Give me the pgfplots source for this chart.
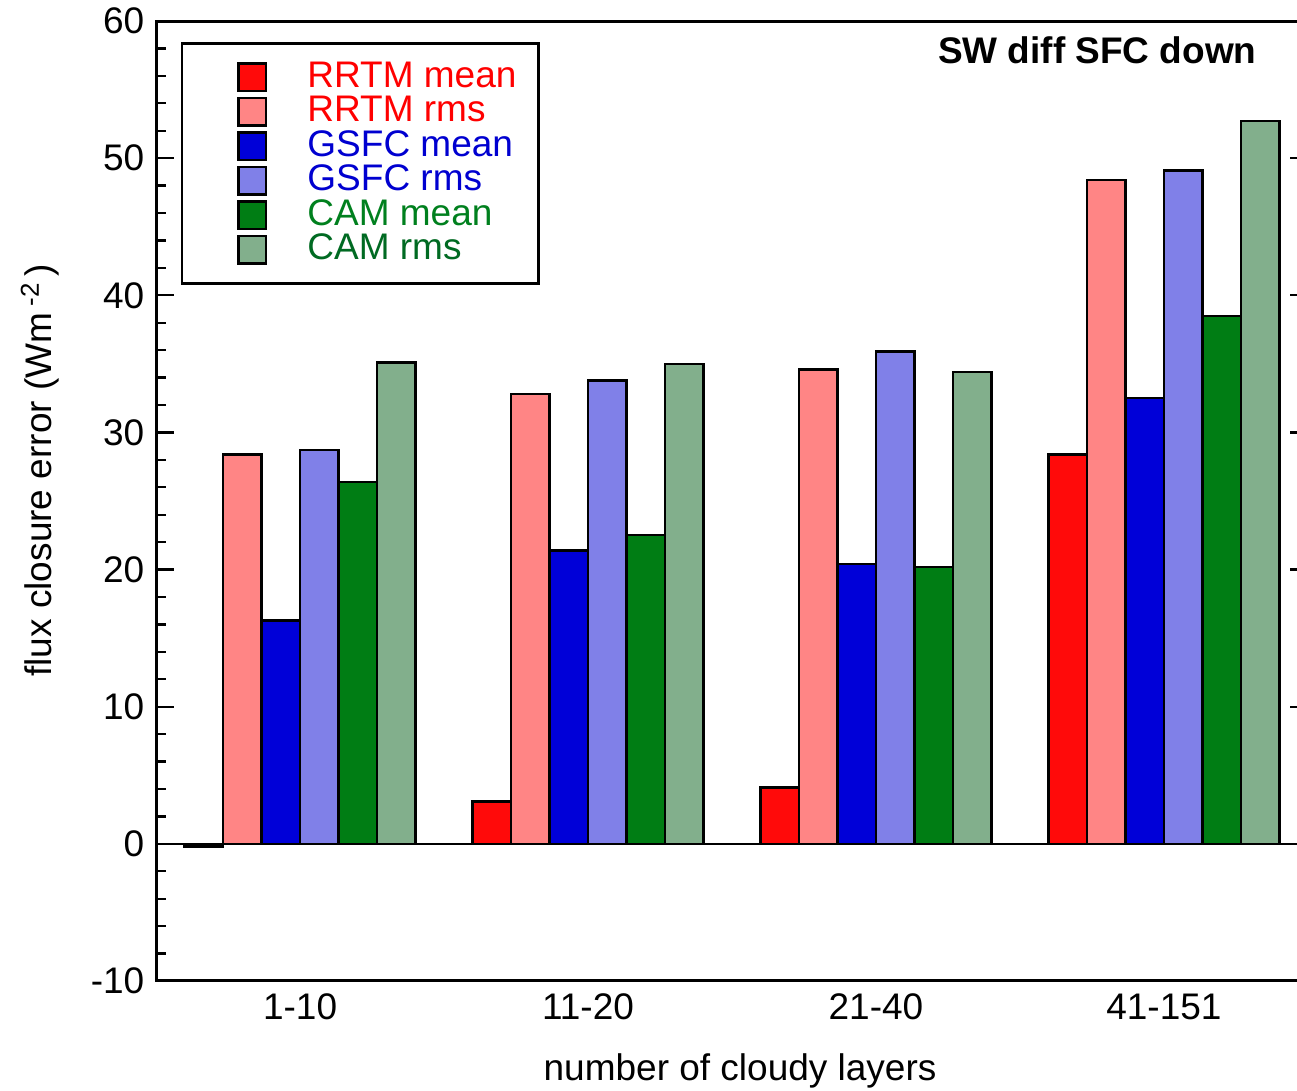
\documentclass[border=0pt]{standalone}
\usepackage{fontspec}
\setmainfont{Liberation Sans}
\usepackage{pgfplots}
\pgfplotsset{compat=1.18}
\definecolor{rmean}{HTML}{FF0A0A}
\definecolor{rrms}{HTML}{FF8585}
\definecolor{gmean}{HTML}{0000D8}
\definecolor{grms}{HTML}{8080E8}
\definecolor{cmean}{HTML}{007D14}
\definecolor{crms}{HTML}{82AF8C}
\definecolor{rtxt}{HTML}{FF0000}
\definecolor{gtxt}{HTML}{0000D0}
\definecolor{ctxt}{HTML}{00801E}
\definecolor{crtxt}{HTML}{006A22}
\begin{document}
\fontsize{18.5}{22}\selectfont
\begin{tikzpicture}
\useasboundingbox (-78.5pt,-55pt) rectangle (570pt,490.5pt);
\begin{axis}[
  scale only axis, width=575pt, height=480pt,
  at={(0,0)}, anchor=south west,
  xmin=-0.497, xmax=3.497, ymin=-10, ymax=60,
  ybar=0pt, bar width=19.25pt,
  xtick={0,1,2,3}, xticklabels={1-10,11-20,21-40,41-151},
  x tick style={draw=none},
  ytick={-10,0,...,60}, minor y tick num=4,
  tick align=inside, major tick length=8.5pt, minor tick length=4.5pt,
  axis line style={line width=1.5pt},
  every tick/.append style={black, line width=1.2pt},
  tick label style={font=\fontsize{18.5}{22}\selectfont},
  /pgf/number format/assume math mode=true,
  every axis plot/.append style={draw=black, line width=1.2pt},
  xlabel={number of cloudy layers},
  ylabel={flux closure error (Wm\,\textsuperscript{-2}\,)},
  label style={font=\fontsize{18.5}{22}\selectfont},
  xlabel style={at={(rel axis cs:0.507,-0.0937)}, anchor=center},
  ylabel style={at={(rel axis cs:-0.1017,0.532)}, anchor=center, rotate=0},
  legend image code/.code={\path (0pt,0pt); \draw[#1, draw=black, line width=1.2pt] (16.6pt,-6.9pt) rectangle (30.4pt,6.9pt);},
  legend style={at={(0.0209,0.978)}, anchor=north west, draw=black, line width=1.2pt,
    inner xsep=11pt, inner ysep=9.4pt, row sep=2.25pt,
    nodes={inner sep=0pt, text height=12.5pt, text depth=2.5pt, anchor=west},
    /tikz/every odd column/.append style={column sep=20pt},
    font=\fontsize{18.5}{22}\selectfont},
  legend cell align=left,
]
\draw[line width=1.2pt] (axis cs:-0.497,0) -- (axis cs:3.497,0);
\addplot[fill=rmean] coordinates {(0,-0.2) (1,3.1) (2,4.1) (3,28.4)};
\addlegendentry{\textcolor{rtxt}{RRTM mean}}
\addplot[fill=rrms] coordinates {(0,28.4) (1,32.8) (2,34.6) (3,48.4)};
\addlegendentry{\textcolor{rtxt}{RRTM rms}}
\addplot[fill=gmean] coordinates {(0,16.3) (1,21.4) (2,20.4) (3,32.5)};
\addlegendentry{\textcolor{gtxt}{GSFC mean}}
\addplot[fill=grms] coordinates {(0,28.7) (1,33.8) (2,35.9) (3,49.1)};
\addlegendentry{\textcolor{gtxt}{GSFC rms}}
\addplot[fill=cmean] coordinates {(0,26.4) (1,22.5) (2,20.2) (3,38.5)};
\addlegendentry{\textcolor{ctxt}{CAM mean}}
\addplot[fill=crms] coordinates {(0,35.1) (1,35.0) (2,34.4) (3,52.7)};
\addlegendentry{\textcolor{crtxt}{CAM rms}}
\node[anchor=east, inner sep=0pt, font=\bfseries] at (rel axis cs:0.9565,0.970) {SW diff SFC down};
\end{axis}
\end{tikzpicture}
\end{document}
